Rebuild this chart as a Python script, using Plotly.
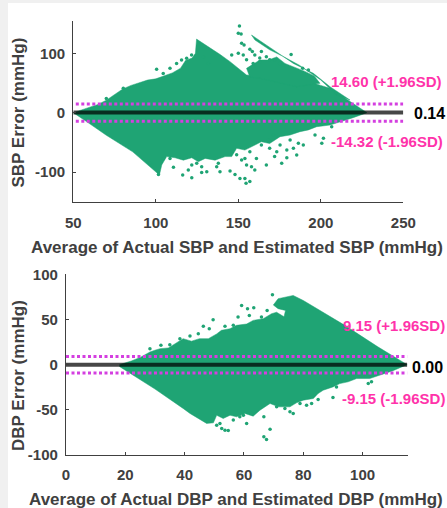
import plotly.graph_objects as go

# SBP panel: envelope of the solid cloud
sbp_core_x = [50,55,60,65,70,75,80,85,90,95,100,105,110,115,118,122,124,124.7,128,131,135,139,145,150,155,160,165,173,179,189,195.5,200,205.6,210,215,220,225,228,
              220,211.7,205.6,197.5,192.5,187.4,181.4,175.3,169,164,158,154,149,146,142,135.9,129.9,125.8,121.8,116.7,111.7,106.6,103.6,102.2,86,70,58,50]
sbp_core_y = [0,5,9,14,21,30,40,46,50,55,57,62,67,75,88,92,100,124,118,113,106,98,86,75,63.5,62,58,58,50,52,50,46,41,33,24,15,6,0,
              -8,-16,-20.8,-23.6,-29,-32,-37.6,-40.4,-52,-49,-57,-63,-60,-74,-74,-80,-77,-82.6,-76,-80,-76,-74,-88,-105,-66,-38,-15,0]
sbp_patch_x = [155,163,168.2,173.3,178.3,184,190,196,199.5,185.4,175,163,157,155,None,
               158,173.3,183.4,195.5,205.6,217.7,209.6,200,187,177,169,160.1,158]
sbp_patch_y = [74.7,88.8,88.8,94,83,77,70,62,49.4,43.8,50,58,60,74.7,None,
               130.9,102.8,83,66.3,43.8,21.3,29.8,55,80,95,106,122.5,130.9]
sbp_points_x = [150.7,150,151.7,152,153.5,157,158.5,146,150,153,155,160,164,163,159,163,167,169,172,182,175,177,
                189,192.5,
                100.5,115.6,112.6,121.7,128.8,131.8,80.3,108.6,70,104.5,118.7,
                101.6,110.7,116.3,121.8,119.7,127.8,130.9,138.9,136.9,145,148,151,154,157,154.7,160,158,155,152,149,167,176.3,179.4,185.4,172,164,169,173.3,181.4,186.4,189.4,196.5,200.6,201.6,206.6,
                108.6,121.8,124.8,137.9,127.8,96.5,104.6,157,161,154,179.4,175.3,168.2,183.4,171.3]
sbp_points_y = [146,133.7,132.6,117,114,107,103,97,100,97,89,97,103,92,83,86,94.4,89,89,98,83,80,
                75,72,
                73,88.8,83,97,94,83,41,74.7,24,66,91.6,
                -104,-92,-105,-109.6,-96.6,-100.6,-99.4,-99.4,-91,-98.3,-104,-110.7,-110.7,-116,-119,-96.6,-91,-88,-79.8,-71,-88,-85.4,-76,-71.3,-74,-54.5,-60,-65.7,-46,-51.7,-54.5,-37.6,-51.7,-43.2,-23.6,
                -77,-88,-85.4,-85.4,-91,-85.4,-77,-65.7,-77,-77,-63,-54.5,-46,-60,-37.6]
sbp_limits = [250, 50]
sbp_mean = 0.14
sbp_upper = 14.60
sbp_lower = -14.32
sbp_xticks = [50, 100, 150, 200, 250]
sbp_yticks = [-100, 0, 100]

# DBP panel
dbp_core_x = [18,22,25,28.3,30,31.7,34.5,37.3,39.5,42.3,45,48,50.8,52.4,55.3,57.5,60.9,63.1,66.5,69.3,71,73.5,74,71.5,69.9,71.5,76.6,80,84.5,94,105,115,
              110,102.4,98,95.1,92.3,90,86.7,85,83.4,80,77.7,75.5,71.6,68.8,65.4,63.1,60.3,57.5,55.3,53,50.8,49.7,47.4,41.8,39.6,30,18]
dbp_core_y = [0,4,8,14,16,17.7,18.5,24,28.8,26,28.8,28.8,34,38,39.8,43.5,45,49,50.9,56.4,58,53,60,62,66,73,76.6,71,62,43.5,20,0,
              -7,-15.4,-15.4,-19,-21,-24.6,-28.3,-32,-37.5,-39.3,-42.3,-46.7,-46.7,-43,-50.4,-57,-54,-57.7,-56,-59.6,-56,-64.4,-65,-54,-48.7,-27,-2]
dbp_points_x = [69.6,59.2,61.2,63.3,58,49.6,46.3,48.3,44.6,61.8,65.9,67.8,35,32,28.3,53.6,56.4,41.8,38.4,
                53.6,54.7,52.5,50.8,60.9,66.7,68.8,66.7,67.6,56.4,58.6,59.8,62.6,76.6,75.5,73.8,81.1,82.8,85,90,91.2,101.9,103,51.9,71,78.9]
dbp_points_y = [77.4,65.6,62,63,52.7,49.8,42.4,39.8,34.3,54.5,52.7,60,22,21.4,17.7,42.4,43.5,31.7,28.8,
                -72.5,-73,-70.6,-67,-65,-57.7,-71.4,-79.8,-82.8,-61.4,-57.7,-56,-54,-54,-52.2,-48.5,-44.9,-43,-38.6,-36.4,-24.6,-21,-19,-65,-46.7,-43]
dbp_limits = [0, 115]
dbp_mean = 0.0
dbp_upper = 9.15
dbp_lower = -9.15
dbp_xticks = [0, 20, 40, 60, 80, 100]
dbp_yticks = [-100, -50, 0, 50, 100]

GREEN = "#1fa474"
MAG = "#d43fe0"
PINK = "#ff33aa"
INK = "#404040"
PAGE = 8  # default page margin of the browser
W, H = 447 - PAGE, 508 - PAGE


def fx(px):
    return (px - PAGE) / W


def fy(py):
    return 1 - (py - PAGE) / H


fig = go.Figure()


def panel(xa, ya, core_x, core_y, pts_x, pts_y, limits, mean, up, lo, patch_x=None, patch_y=None):
    fig.add_trace(go.Scatter(x=core_x, y=core_y, mode="lines", fill="toself", fillcolor=GREEN,
                             line=dict(color=GREEN, width=0.5), xaxis=xa, yaxis=ya, showlegend=False))
    if patch_x:
        fig.add_trace(go.Scatter(x=patch_x, y=patch_y, mode="lines", fill="toself", fillcolor=GREEN,
                                 line=dict(color=GREEN, width=0.5), xaxis=xa, yaxis=ya, showlegend=False))
    fig.add_trace(go.Scatter(x=pts_x, y=pts_y, mode="markers", marker=dict(color=GREEN, size=3.5),
                             xaxis=xa, yaxis=ya, showlegend=False))
    for val in (up, lo):
        fig.add_trace(go.Scatter(x=limits, y=[val, val], mode="lines",
                                 line=dict(color=MAG, width=3, dash="3px,2.5px"),
                                 xaxis=xa, yaxis=ya, showlegend=False))
    fig.add_trace(go.Scatter(x=limits, y=[mean, mean], mode="lines",
                             line=dict(color="rgba(0,0,0,0.72)", width=4),
                             xaxis=xa, yaxis=ya, showlegend=False))


panel("x", "y", sbp_core_x, sbp_core_y, sbp_points_x, sbp_points_y, sbp_limits, sbp_mean, sbp_upper, sbp_lower,
      sbp_patch_x, sbp_patch_y)
panel("x2", "y2", dbp_core_x, dbp_core_y, dbp_points_x, dbp_points_y, dbp_limits, dbp_mean, dbp_upper, dbp_lower)


def axis(domain, rng, ticks, anchor, standoff):
    return dict(domain=domain, range=rng, tickmode="array", tickvals=ticks, ticktext=[str(t) for t in ticks],
                ticks="inside", ticklen=3, tickwidth=1.3, tickcolor=INK, showline=True, linewidth=1.3,
                linecolor=INK, showgrid=False, zeroline=False, anchor=anchor, automargin=False,
                ticklabelstandoff=standoff,
                tickfont=dict(family="Liberation Sans", size=15, color=INK, weight=700))


fig.update_layout(
    width=W, height=H, margin=dict(l=0, r=0, t=0, b=0), autosize=False,
    paper_bgcolor="white", plot_bgcolor="white", showlegend=False,
    font=dict(family="Liberation Sans", color=INK),
    xaxis=axis([fx(73.3), fx(403.3)], [50, 250], sbp_xticks, "y", 7),
    yaxis=axis([fy(201.7), fy(21)], [-150, 154.5], sbp_yticks, "x", 4),
    xaxis2=axis([fx(66), fx(408.3)], [0, 115.4], dbp_xticks, "y2", 6),
    yaxis2=axis([fy(455), fy(274.3)], [-100, 100], dbp_yticks, "x2", 4),
)


def label(text, px, py, color=PINK, size=15):
    fig.add_annotation(text=f"<b>{text}</b>", x=fx(px), y=fy(py), xref="paper", yref="paper", showarrow=False,
                       xanchor="right", yanchor="middle", font=dict(family="Liberation Sans", size=size, color=color))


def title(text, px, py, angle=0):
    fig.add_annotation(text=f"<b>{text}</b>", x=fx(px), y=fy(py), xref="paper", yref="paper", showarrow=False,
                       xanchor="center", yanchor="middle", textangle=angle,
                       font=dict(family="Liberation Sans", size=17, color=INK))


label(f"{sbp_upper:.2f} (+1.96SD)", 444, 81)
label(f"{sbp_mean:.2f}", 447, 114, "black", 16)
label(f"{sbp_lower:.2f} (-1.96SD)", 445, 141)
label(f"{dbp_upper:.2f} (+1.96SD)", 447, 325)
label(f"{dbp_mean:.2f}", 445, 367, "black", 16)
label(f"{dbp_lower:.2f} (-1.96SD)", 447, 398)
title("Average of Actual SBP and Estimated SBP (mmHg)", 237, 247)
title("SBP Error (mmHg)", 18, 112.5, -90)
title("Average of Actual DBP and Estimated DBP (mmHg)", 236, 499)
title("DBP Error (mmHg)", 18, 376, -90)

POST = """
var h=document.documentElement,b=document.body;
h.style.background='#f0f0f0';
h.style.overflow='visible';
b.style.background='white';
b.style.overflow='visible';
b.style.width='439px';
b.style.marginRight='0';
b.style.marginTop='3px';
b.style.paddingTop='5px';
"""
fig.write_html("out.html", config={"displayModeBar": False}, default_width=f"{W}px", default_height=f"{H}px",
               post_script=POST)
